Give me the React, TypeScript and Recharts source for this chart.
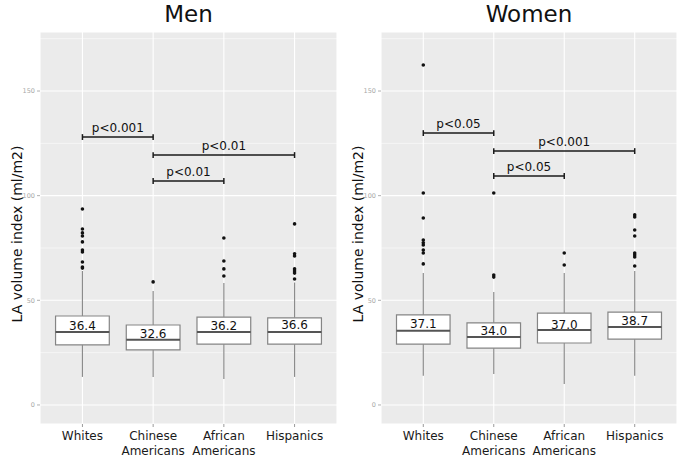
import { CartesianGrid, ComposedChart, ReferenceArea, ReferenceLine, Scatter, XAxis, YAxis } from 'recharts'

const groups = ['Whites', 'Chinese Americans', 'African Americans', 'Hispanics']
const groupPos = [1, 2, 3, 4]
const yTicks = [0, 50, 100, 150]
const minorTicks = [25, 75, 125, 175]

const menLow = [13.4, 13.4, 12.4, 13.4]
const menQ1 = [28.7, 26.3, 29.1, 29.1]
const menMedian = [34.9, 31.1, 34.9, 34.9]
const menQ3 = [42.5, 38.2, 42.0, 41.6]
const menHigh = [64.0, 54.5, 58.3, 58.5]
const menMean = [36.4, 32.6, 36.2, 36.6]
const menOutliers = [
  [93.6, 84.1, 82.2, 80.7, 77.9, 74.0, 73.1, 68.3, 65.9, 65.4],
  [58.8],
  [79.8, 68.8, 65.0, 61.6],
  [86.5, 72.2, 71.2, 65.0, 64.0, 63.0, 60.2],
]
const menPairs = [[1, 2], [2, 4], [2, 3]]
const menPLevel = [128.0, 119.4, 107.0]
const menPText = ['p<0.001', 'p<0.01', 'p<0.01']

const womenLow = [13.9, 14.8, 10.0, 13.9]
const womenQ1 = [29.1, 27.2, 29.6, 31.5]
const womenMedian = [35.4, 32.5, 35.8, 37.3]
const womenQ3 = [43.0, 39.2, 43.9, 44.4]
const womenHigh = [63.1, 54.0, 63.1, 64.0]
const womenMean = [37.1, 34.0, 37.0, 38.7]
const womenOutliers = [
  [162.4, 101.3, 89.3, 78.8, 77.5, 76.4, 74.0, 72.6, 67.4],
  [101.3, 62.1, 61.1],
  [72.6, 66.9],
  [90.8, 89.8, 83.6, 80.7, 72.6, 71.7, 70.7, 66.4],
]
const womenPairs = [[1, 2], [2, 4], [2, 3]]
const womenPLevel = [129.9, 121.3, 109.4]
const womenPText = ['p<0.05', 'p<0.001', 'p<0.05']

const FONT = '"DejaVu Sans", Verdana, sans-serif'
const HALF = 0.38
const CAP = 0.06
const TICK_H = 1.4

type PanelProps = {
  title: string
  low: number[]
  q1: number[]
  median: number[]
  q3: number[]
  high: number[]
  mean: number[]
  outliers: number[][]
  pairs: number[][]
  pLevel: number[]
  pText: string[]
  left: number
  marginLeft: number
}

function GroupTick(props: any) {
  const { x, y, payload } = props
  const words = groups[payload.value - 1].split(' ')
  return (
    <text x={x} y={y} textAnchor="middle" fontSize={12} fill="#1a1a1a" fontFamily={FONT}>
      {words.map((w, i) => (
        <tspan key={i} x={x} dy={i === 0 ? 11 : 15}>
          {w}
        </tspan>
      ))}
    </text>
  )
}

function Panel(p: PanelProps) {
  const outlierData = p.outliers.flatMap((vals, i) => vals.map((v) => ({ x: groupPos[i], y: v })))
  const meanData = p.mean.map((m, i) => ({ x: groupPos[i], y: m, label: m.toFixed(1) }))
  const plotLeft = p.left + p.marginLeft + 30
  const plotWidth = 345 - p.marginLeft - 30 - 8
  return (
    <div style={{ position: 'absolute', left: p.left, top: 0, width: 345, height: 462 }}>
      <div
        style={{
          position: 'absolute',
          left: plotLeft - p.left,
          width: plotWidth,
          top: 3,
          textAlign: 'center',
          fontSize: 23,
          lineHeight: '23px',
          fontFamily: FONT,
          color: '#111',
        }}
      >
        {p.title}
      </div>
      <div
        style={{
          position: 'absolute',
          left: plotLeft - p.left - 23 - 110,
          top: 234 - 8,
          width: 220,
          height: 16,
          lineHeight: '16px',
          textAlign: 'center',
          fontSize: 14,
          fontFamily: FONT,
          color: '#111',
          transform: 'rotate(-90deg)',
          whiteSpace: 'nowrap',
        }}
      >
        LA volume index (ml/m2)
      </div>
      <div style={{ position: 'absolute', left: 0, top: 0 }}>
        <ComposedChart width={345} height={462} margin={{ top: 32, right: 8, bottom: 0, left: p.marginLeft }}>
          <CartesianGrid fill="#ebebeb" stroke="#ffffff" strokeWidth={1.1} />
          <XAxis
            type="number"
            dataKey="x"
            domain={[0.4, 4.6]}
            ticks={groupPos}
            allowDataOverflow
            axisLine={false}
            tickLine={{ stroke: '#9a9a9a' }}
            tickSize={3}
            height={38}
            tick={<GroupTick />}
            interval={0}
          />
          <YAxis
            type="number"
            dataKey="y"
            domain={[-9.1, 178.2]}
            ticks={yTicks}
            allowDataOverflow
            axisLine={false}
            tickLine={{ stroke: '#b0b0b0' }}
            tickSize={3}
            width={30}
            tick={{ fontSize: 6.5, fill: '#a8a8a8', fontFamily: FONT }}
          />
          {minorTicks.map((v) => (
            <ReferenceLine key={'m' + v} y={v} stroke="#ffffff" strokeWidth={0.55} />
          ))}
          {groupPos.map((g, i) => (
            <ReferenceLine
              key={'wl' + i}
              segment={[{ x: g, y: p.low[i] }, { x: g, y: p.q1[i] }]}
              stroke="#8c8c8c"
              strokeWidth={1.2}
            />
          ))}
          {groupPos.map((g, i) => (
            <ReferenceLine
              key={'wh' + i}
              segment={[{ x: g, y: p.q3[i] }, { x: g, y: p.high[i] }]}
              stroke="#8c8c8c"
              strokeWidth={1.2}
            />
          ))}
          {groupPos.map((g, i) => (
            <ReferenceArea
              key={'b' + i}
              x1={g - HALF}
              x2={g + HALF}
              y1={p.q1[i]}
              y2={p.q3[i]}
              fill="#ffffff"
              fillOpacity={1}
              stroke="#858585"
              strokeWidth={1.2}
            />
          ))}
          {groupPos.map((g, i) => (
            <ReferenceLine
              key={'md' + i}
              segment={[{ x: g - HALF, y: p.median[i] }, { x: g + HALF, y: p.median[i] }]}
              stroke="#555555"
              strokeWidth={2}
            />
          ))}
          <Scatter
            data={outlierData}
            dataKey="y"
            isAnimationActive={false}
            shape={(s: any) => <circle cx={s.cx} cy={s.cy} r={1.8} fill="#111111" />}
          />
          <Scatter
            data={meanData}
            dataKey="y"
            isAnimationActive={false}
            shape={(s: any) => (
              <text
                x={s.cx}
                y={s.cy - 3}
                textAnchor="middle"
                dominantBaseline="central"
                fontSize={12}
                fill="#111111"
                fontFamily={FONT}
              >
                {s.payload.label}
              </text>
            )}
          />
          {p.pairs.map(([a, b], i) => (
            <ReferenceLine
              key={'p' + i}
              segment={[{ x: a - CAP * 0, y: p.pLevel[i] }, { x: b, y: p.pLevel[i] }]}
              stroke="#1a1a1a"
              strokeWidth={1.5}
              label={{ value: p.pText[i], position: 'top', offset: 5, fontSize: 12, fill: '#111111', fontFamily: FONT }}
            />
          ))}
          {p.pairs.flatMap(([a, b], i) =>
            [a, b].map((e, j) => (
              <ReferenceLine
                key={'pt' + i + '-' + j}
                segment={[{ x: e, y: p.pLevel[i] - TICK_H }, { x: e, y: p.pLevel[i] + TICK_H }]}
                stroke="#1a1a1a"
                strokeWidth={1.5}
              />
            ))
          )}
        </ComposedChart>
      </div>
    </div>
  )
}

export default function App() {
  return (
    <div style={{ position: 'absolute', left: 0, top: 0, width: 685, height: 462, background: '#ffffff' }}>
      <Panel
        title="Men"
        low={menLow}
        q1={menQ1}
        median={menMedian}
        q3={menQ3}
        high={menHigh}
        mean={menMean}
        outliers={menOutliers}
        pairs={menPairs}
        pLevel={menPLevel}
        pText={menPText}
        left={0}
        marginLeft={10}
      />
      <Panel
        title="Women"
        low={womenLow}
        q1={womenQ1}
        median={womenMedian}
        q3={womenQ3}
        high={womenHigh}
        mean={womenMean}
        outliers={womenOutliers}
        pairs={womenPairs}
        pLevel={womenPLevel}
        pText={womenPText}
        left={340}
        marginLeft={11}
      />
    </div>
  )
}
